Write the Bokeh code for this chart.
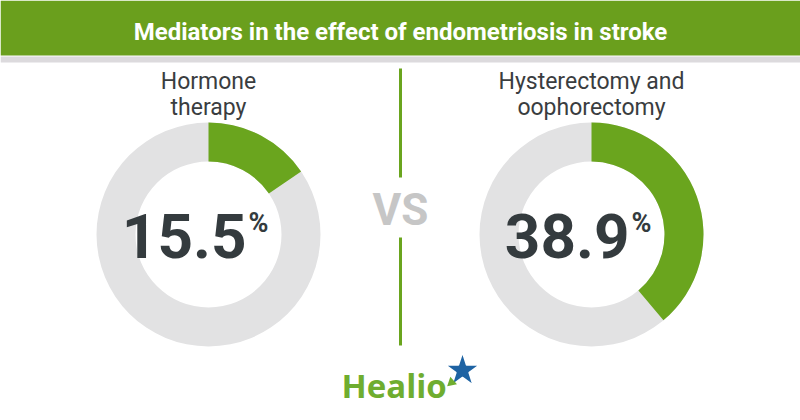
import math
from bokeh.plotting import figure
from bokeh.models import Range1d
from bokeh.core.properties import value
from bokeh.embed import file_html
from bokeh.resources import INLINE

# ---- data ----
title = "Mediators in the effect of endometriosis in stroke"
mediators = ["Hormone therapy", "Hysterectomy and oophorectomy"]
label_line1 = ["Hormone", "Hysterectomy and"]
label_line2 = ["therapy", "oophorectomy"]
percent = [15.5, 38.9]
versus = "VS"
brand = "Healio"

# ---- style ----
W, H = 800, 420
HEADER = "#6a9f1d"
GREEN = "#6aa51e"
RING = "#e2e2e3"
DARK = "#343b3e"
LABEL = "#3a3d3f"
VS_GREY = "#c6c6c6"
BRAND_GREEN = "#6fad2f"
BRAND_BLUE = "#1e63a3"


def Y(v):
    return H - v


p = figure(width=W, height=H, x_range=Range1d(0, W), y_range=Range1d(0, H),
           output_backend="svg", toolbar_location=None, min_border=0,
           x_axis_location=None, y_axis_location=None,
           outline_line_color=None, background_fill_color="white",
           border_fill_color="white")
p.grid.visible = False

# header band
p.quad(left=0, right=W, top=Y(0), bottom=Y(55), fill_color=HEADER, line_color=None)
p.quad(left=0, right=W, top=Y(56), bottom=Y(62), fill_color="#dcdadd", line_color=None)
p.text(x=[W / 2], y=[Y(17)], text=[title], text_align="center",
       text_baseline="top", text_font=value("Roboto"),
       text_font_style="bold", text_font_size="24px", text_color="white")

# donuts
cx = [208, 591]
cy = [Y(234)] * len(percent)
p.annulus(x=cx, y=cy, inner_radius=73, outer_radius=112,
          fill_color=RING, line_color=None)
start = [math.pi / 2 - 2 * math.pi * v / 100 for v in percent]
end = [math.pi / 2] * len(percent)
p.annular_wedge(x=cx, y=cy, inner_radius=73, outer_radius=112,
                start_angle=start, end_angle=end, direction="anticlock",
                fill_color=GREEN, line_color=None)

# numbers
p.text(x=[c + 38 for c in cx], y=[Y(213)] * 2, text=[f"{v:.1f}" for v in percent],
       text_align="right", text_baseline="top", text_font=value("Roboto"),
       text_font_style="bold", text_font_size="62px", text_color=DARK)
p.text(x=[c + 40 for c in cx], y=[Y(206)] * 2, text=["%"] * 2,
       text_align="left", text_baseline="top", text_font=value("Roboto"),
       text_font_style="bold", text_font_size="27px", text_color=DARK)

# labels
p.text(x=cx, y=[Y(67)] * 2, text=label_line1, text_align="center",
       text_baseline="top", text_font=value("Roboto"),
       text_font_size="23px", text_color=LABEL)
p.text(x=cx, y=[Y(93)] * 2, text=label_line2, text_align="center",
       text_baseline="top", text_font=value("Roboto"),
       text_font_size="23px", text_color=LABEL)

# VS divider
p.segment(x0=[400, 400], y0=[Y(68), Y(237)], x1=[400, 400], y1=[Y(177), Y(345)],
          line_color=GREEN, line_width=3)
p.text(x=[400], y=[Y(183)], text=[versus], text_align="center",
       text_baseline="top", text_font=value("Roboto"),
       text_font_style="bold", text_font_size="44px", text_color=VS_GREY)

# brand
p.text(x=[341], y=[Y(362)], text=[brand], text_align="left",
       text_baseline="top", text_font=value("Open Sans"),
       text_font_style="bold", text_font_size="33px", text_color=BRAND_GREEN)
p.scatter(x=[462], y=[Y(370)], marker="star", size=36, fill_color=BRAND_BLUE,
          line_color="white", line_width=1.5)
p.scatter(x=[451], y=[Y(382)], marker="triangle", size=10, angle=2.3,
          fill_color=BRAND_GREEN, line_color=None)

open("out.html", "w").write(file_html(p, INLINE))
